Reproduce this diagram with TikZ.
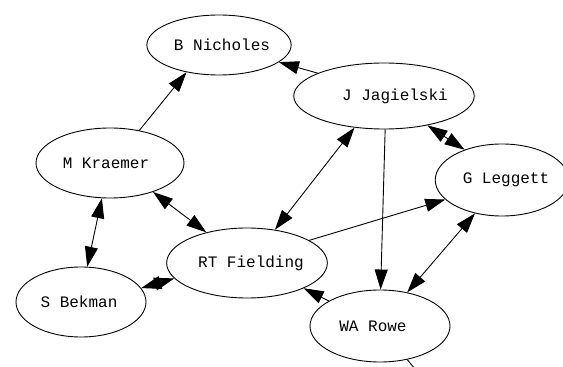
\documentclass[tikz,border=0pt]{standalone}
\usepackage{fontspec}
\newfontfamily\labelfont{Liberation Mono}
\usetikzlibrary{shapes.geometric,arrows.meta}
\begin{document}
\begin{tikzpicture}[x=1pt,y=1pt,
  person/.style={ellipse,draw,line width=0.9pt,inner sep=0pt,
    font=\labelfont\fontsize{16}{18}\selectfont},
  link/.style={line width=0.9pt},
  tip/.style={-{Triangle[length=20pt,width=13pt]}},
  both/.style={{Triangle[length=20pt,width=13pt]}-{Triangle[length=20pt,width=13pt]}}]
\useasboundingbox (0,0) rectangle (563,367);
\clip (0,0) rectangle (563,367);
\fill[white] (0,0) rectangle (563,367);

% people
\node[person,minimum width=142pt,minimum height=60pt] (BN) at (219,322) {\hspace*{6pt}B Nicholes};
\node[person,minimum width=134pt,minimum height=66pt] (JJ) at (384,271) {\hspace*{22pt}J Jagielski};
\node[person,minimum width=148pt,minimum height=70pt] (MK) at (110,204) {M Kraemer\hspace*{8pt}};
\node[person,minimum width=130pt,minimum height=72pt] (GL) at (502,187) {\hspace*{8pt}G Leggett};
\node[person,minimum width=148pt,minimum height=70pt] (RT) at (247,104) {\hspace*{8pt}RT Fielding};
\node[person,minimum width=130pt,minimum height=70pt] (SB) at (81,65) {S Bekman\hspace*{4pt}};
\node[person,minimum width=140pt,minimum height=72pt] (WR) at (380,41) {WA Rowe\hspace*{14pt}};
\coordinate (out) at (430,-20);

% relations
\draw[link,tip] (MK.48) -- (BN.220);
\draw[link,tip] (JJ.161) -- (BN.344);
\draw[link,both] (JJ.227) -- (RT.50);
\draw[link,both] (JJ.326) -- (GL.141);
\draw[link,tip] (JJ.272) -- (WR.89);
\draw[link,tip] (RT.20) -- (GL.199);
\draw[link,both] (GL.231) -- (WR.51);
\draw[link,tip] (WR.154) -- (RT.336);
\draw[link,both] (MK.326) -- (RT.143);
\draw[link,both] (MK.257) -- (SB.80);
\draw[link,both] (SB.13) -- (RT.192);
\draw[link] (WR.309) -- (out);
\end{tikzpicture}
\end{document}
